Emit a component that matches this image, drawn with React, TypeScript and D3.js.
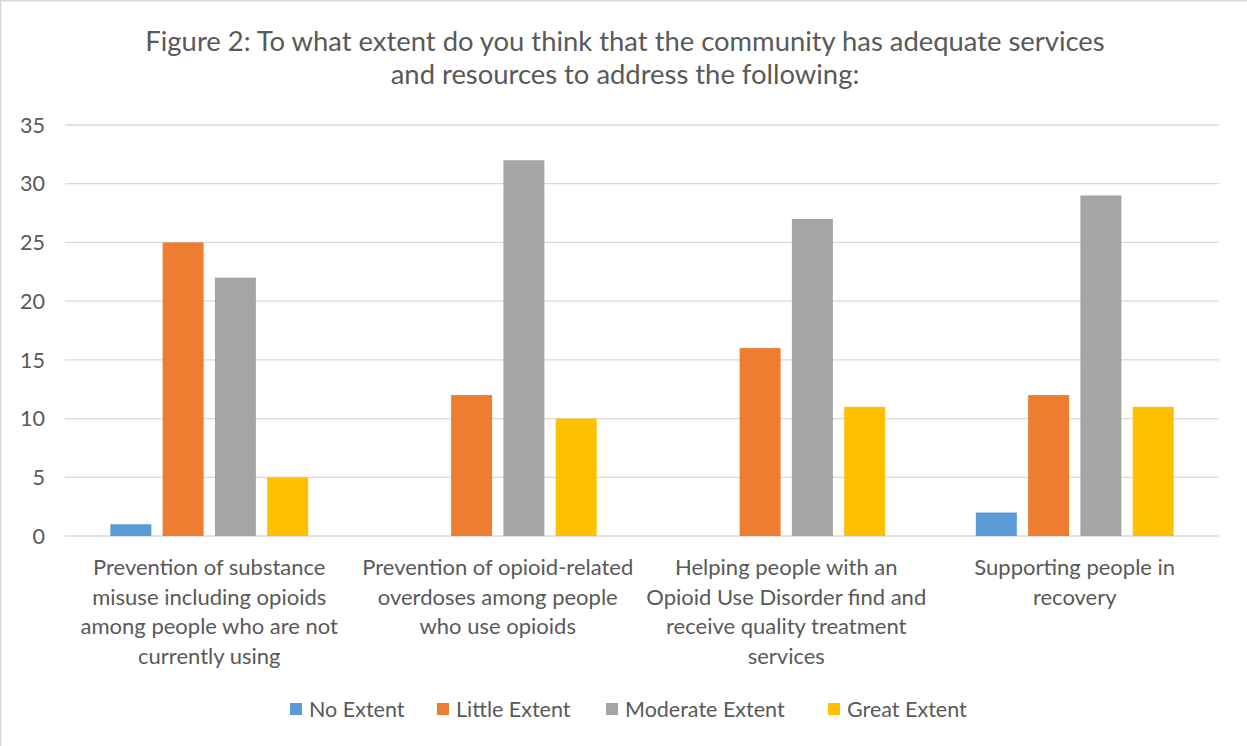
import React from "react";
import * as d3 from "d3";

const categories: string[][] = [
  ["Prevention of substance", "misuse including opioids", "among people who are not", "currently using"],
  ["Prevention of opioid-related", "overdoses among people", "who use opioids"],
  ["Helping people with an", "Opioid Use Disorder find and", "receive quality treatment", "services"],
  ["Supporting people in", "recovery"],
];
const seriesNames = ["No Extent", "Little Extent", "Moderate Extent", "Great Extent"];
const noExtent = [1, 0, 0, 2];
const littleExtent = [25, 12, 16, 12];
const moderateExtent = [22, 32, 27, 29];
const greatExtent = [5, 10, 11, 11];
const yTicks = [0, 5, 10, 15, 20, 25, 30, 35];
const colors = ["#5B9BD5", "#ED7D31", "#A5A5A5", "#FFC000"];
const titleLines = [
  "Figure 2: To what extent do you think that the community has adequate services",
  "and resources to address the following:",
];

const W = 1247;
const H = 746;
const FONT = "Lato, 'Open Sans', sans-serif";
const TEXT = "#595959";

export default function App() {
  const values = [noExtent, littleExtent, moderateExtent, greatExtent];
  const catIdx = categories.map((_, i) => i);
  const x0 = d3.scaleBand<number>().domain(catIdx).range([65, 1219]).padding(0);
  const x1 = d3
    .scaleBand<number>()
    .domain(seriesNames.map((_, i) => i))
    .range([0, x0.bandwidth()])
    .paddingInner(0.216)
    .paddingOuter(0.867);
  const y = d3.scaleLinear().domain([0, 35]).range([536, 125]);

  const legendX = [290, 437, 606, 828];

  return (
    <svg
      width={W}
      height={H}
      style={{ position: "absolute", left: 0, top: 0, background: "#fff" }}
      fontFamily={FONT}
    >
      <rect x={0.75} y={0.75} width={1400} height={900} fill="#fff" stroke="#D9D9D9" strokeWidth={1.5} />
      {titleLines.map((t, i) => (
        <text key={i} x={625} y={51 + i * 33} textAnchor="middle" fontSize={27.4} fill={TEXT}>
          {t}
        </text>
      ))}
      {yTicks.map((t) => (
        <g key={t}>
          <line x1={65} x2={1219} y1={y(t)} y2={y(t)} stroke="#D9D9D9" strokeWidth={1.3} />
          <text x={45} y={y(t)} dy="0.36em" textAnchor="end" fontSize={21.5} fill={TEXT}>
            {t}
          </text>
        </g>
      ))}
      {catIdx.map((c) => (
        <g key={c} transform={`translate(${x0(c)},0)`}>
          {values.map((vals, s) =>
            vals[c] > 0 ? (
              <rect
                key={s}
                x={x1(s)}
                y={y(vals[c])}
                width={x1.bandwidth()}
                height={y(0) - y(vals[c])}
                fill={colors[s]}
              />
            ) : null
          )}
          {categories[c].map((line, li) => (
            <text
              key={li}
              x={x0.bandwidth() / 2}
              y={575 + li * 29.5}
              textAnchor="middle"
              fontSize={22}
              fill={TEXT}
            >
              {line}
            </text>
          ))}
        </g>
      ))}
      {seriesNames.map((n, i) => (
        <g key={n} transform={`translate(${legendX[i]},0)`}>
          <rect x={0} y={703} width={12} height={12} fill={colors[i]} />
          <text x={19} y={709} dy="0.36em" fontSize={21.5} fill={TEXT}>
            {n}
          </text>
        </g>
      ))}
    </svg>
  );
}
